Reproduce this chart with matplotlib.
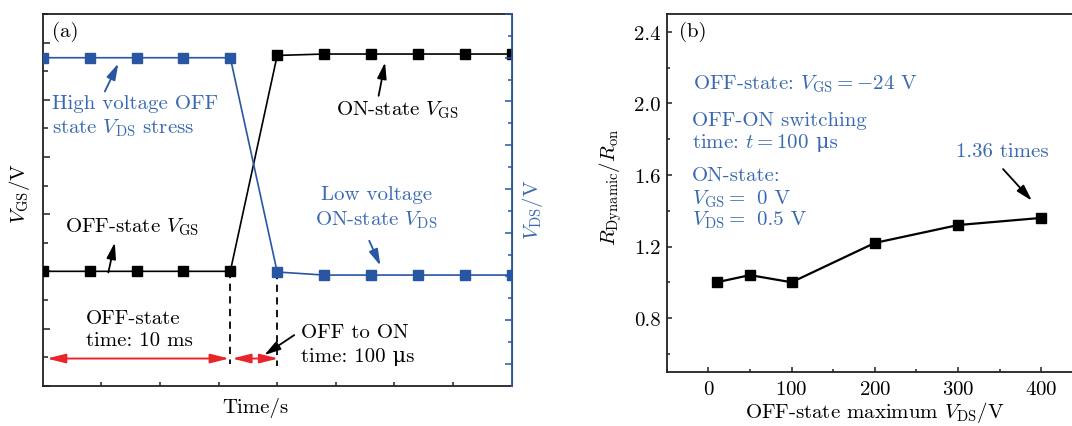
import matplotlib
matplotlib.use("Agg")
import matplotlib.pyplot as plt
from matplotlib.ticker import MultipleLocator, FixedLocator, NullLocator

plt.rcParams['font.family'] = ['cmr10', 'DejaVu Serif']
plt.rcParams['mathtext.fontset'] = 'cm'
plt.rcParams['axes.formatter.use_mathtext'] = True
plt.rcParams['font.size'] = 15

BLUE = '#2856A3'
BLUE_TXT = '#3A69B3'
RED = '#E8262A'
DARK = '#222222'

# ---- panel (a): switching waveform ----
time_pts = [0, 0.8, 1.6, 2.4, 3.2, 4.0, 4.8, 5.6, 6.4, 7.2, 8.0]
vgs_pts = [4.0, 4.0, 4.0, 4.0, 4.0, 11.55, 11.6, 11.6, 11.6, 11.6, 11.6]
vds_pts = [15.0, 15.0, 15.0, 15.0, 15.0, 5.2, 5.06, 5.06, 5.06, 5.06, 5.06]
t_switch_off = 3.2
t_switch_on = 4.0

# ---- panel (b): dynamic on-resistance ratio ----
vds_max = [10, 50, 100, 200, 300, 400]
r_ratio = [1.00, 1.04, 1.00, 1.22, 1.32, 1.36]

fig = plt.figure(figsize=(10.72, 4.27), dpi=100)
W, H = 1072, 427

ax_a = fig.add_axes([42.7 / W, 1 - 386.7 / H, 469 / W, 371.7 / H])
ax_a.set_xlim(0, 8)
ax_a.set_ylim(0, 13)
ax2 = ax_a.twinx()
ax2.set_ylim(0, 17)

ax_a.plot(time_pts, vgs_pts, color='black', lw=1.2, marker='s', ms=7,
          markerfacecolor='black', markeredgecolor='black', zorder=3)
ax2.plot(time_pts, vds_pts, color=BLUE, lw=1.2, marker='s', ms=7,
         markerfacecolor=BLUE, markeredgecolor=BLUE, zorder=3)

for sp in ['left', 'top', 'bottom']:
    ax_a.spines[sp].set_color(DARK)
    ax_a.spines[sp].set_linewidth(1.3)
    ax2.spines[sp].set_visible(False)
ax_a.spines['right'].set_color(BLUE)
ax2.spines['right'].set_color(BLUE)
ax2.spines['right'].set_linewidth(1.3)

ax_a.yaxis.set_major_locator(MultipleLocator(2))
ax_a.yaxis.set_minor_locator(MultipleLocator(1))
ax_a.tick_params(axis='y', which='major', direction='in', length=5, width=1.1,
                 color=DARK, labelleft=False)
ax_a.tick_params(axis='y', which='minor', direction='in', length=3.4, width=1.1,
                 color=DARK)
ax_a.xaxis.set_major_locator(FixedLocator([1, 2, 3, 4, 5, 6, 7]))
ax_a.xaxis.set_minor_locator(NullLocator())
ax_a.tick_params(axis='x', which='major', direction='in', length=3, width=1.1,
                 color=DARK, labelbottom=False)

ax2.yaxis.set_major_locator(FixedLocator([1, 3, 5, 7, 9, 11, 13, 15, 17]))
ax2.yaxis.set_minor_locator(FixedLocator([2, 4, 6, 8, 10, 12, 14, 16]))
ax2.tick_params(axis='y', which='major', direction='in', length=4.8, width=1.1,
                color=BLUE, labelright=False)
ax2.tick_params(axis='y', which='minor', direction='in', length=2.6, width=1.1,
                color=BLUE)

# axis titles
ax_a.text(-0.0505, 0.52, r'$V_{\rm GS}/{\rm V}$', transform=ax_a.transAxes,
          rotation=90, ha='center', va='center')
ax_a.text(1.0445, 0.475, r'$V_{\rm DS}/{\rm V}$', transform=ax_a.transAxes,
          rotation=90, ha='center', va='center', color=BLUE_TXT)
ax_a.text(0.453, -0.058, 'Time/s', transform=ax_a.transAxes,
          ha='center', va='center')

ax_a.text(0.152, 12.41, '(a)', ha='left', va='center')

# dashed markers of the switching instants
ax_a.plot([t_switch_off, t_switch_off], [4.0, 0.75], color='black', lw=1.3,
          ls=(0, (4, 3)), zorder=2)
ax_a.plot([t_switch_on, t_switch_on], [3.97, 0.7], color='black', lw=1.3,
          ls=(0, (4, 3)), zorder=2)

# red duration arrows
red_style = '<|-|>,head_length=0.8,head_width=0.2'
ax_a.annotate('', xy=(t_switch_off - 0.02, 0.95), xytext=(0.07, 0.95),
              arrowprops=dict(arrowstyle=red_style, color=RED, lw=1.4,
                              mutation_scale=14, shrinkA=0, shrinkB=0))
ax_a.annotate('', xy=(t_switch_on + 0.02, 0.95), xytext=(t_switch_off + 0.03, 0.95),
              arrowprops=dict(arrowstyle=red_style, color=RED, lw=1.4,
                              mutation_scale=14, shrinkA=0, shrinkB=0))

ptr = '-|>,head_length=0.7,head_width=0.2'


def pointer(ax, tail, tip, color):
    ax.annotate('', xy=tip, xytext=tail,
                arrowprops=dict(arrowstyle=ptr, color=color, lw=1.3,
                                mutation_scale=14, shrinkA=0, shrinkB=0))


ax_a.text(0.152, 9.88, 'High voltage OFF', color=BLUE_TXT, ha='left', va='center')
ax_a.text(0.152, 9.03, r'state $V_{\rm DS}$ stress', color=BLUE_TXT,
          ha='left', va='center')
pointer(ax_a, (1.06, 10.29), (1.29, 11.27), BLUE)

ax_a.text(5.01, 9.67, r'ON-state $V_{\rm GS}$', ha='left', va='center')
pointer(ax_a, (5.73, 10.14), (5.84, 11.31), 'black')

ax_a.text(0.387, 5.56, r'OFF-state $V_{\rm GS}$', ha='left', va='center')
pointer(ax_a, (1.12, 3.96), (1.23, 5.01), 'black')

ax_a.text(5.69, 6.70, 'Low voltage', color=BLUE_TXT, ha='center', va='center')
ax_a.text(5.69, 5.83, r'ON-state $V_{\rm DS}$', color=BLUE_TXT,
          ha='center', va='center')
pointer(ax_a, (5.57, 5.07), (5.76, 4.20), BLUE)

ax_a.text(0.739, 2.36, 'OFF-state', ha='left', va='center')
ax_a.text(0.739, 1.61, 'time: 10 ms', ha='left', va='center')

ax_a.text(4.40, 1.89, 'OFF to ON', ha='left', va='center')
ax_a.text(4.40, 1.05, 'time: 100 μs', ha='left', va='center')
pointer(ax_a, (4.29, 1.77), (3.78, 1.07), 'black')

# ---- panel (b) ----
ax_b = fig.add_axes([666.7 / W, 1 - 372.7 / H, (1083 - 666.7) / W, 357.7 / H])
ax_b.plot(vds_max, r_ratio, color='black', lw=1.6, marker='s', ms=6.5,
          markerfacecolor='black', markeredgecolor='black')
ax_b.set_xlim(-50, 450)
ax_b.set_ylim(0.5, 2.5)
ax_b.xaxis.set_major_locator(MultipleLocator(100))
ax_b.xaxis.set_minor_locator(MultipleLocator(50))
ax_b.yaxis.set_major_locator(MultipleLocator(0.4))
ax_b.yaxis.set_minor_locator(MultipleLocator(0.2))
ax_b.yaxis.set_major_formatter(plt.FuncFormatter(lambda v, p: f'{v:.1f}'))
for sp in ax_b.spines.values():
    sp.set_color(DARK)
    sp.set_linewidth(1.3)
ax_b.tick_params(which='major', direction='in', length=3.8, width=1.1, color=DARK)
ax_b.tick_params(which='minor', direction='in', length=2.2, width=1.1, color=DARK)
ax_b.tick_params(axis='x', which='major', pad=6)
ax_b.tick_params(axis='y', which='major', pad=4.5)

ax_b.set_xlabel(r'OFF-state maximum $V_{\rm DS}/{\rm V}$', labelpad=1)
ax_b.text(-0.134, 0.519, r'$R_{\rm Dynamic}/R_{\rm on}$', transform=ax_b.transAxes,
          rotation=90, ha='center', va='center')

ax_b.text(-35.2, 2.403, '(b)', ha='left', va='center')
ax_b.text(-18.7, 2.114, r'OFF-state: $V_{\rm GS} = -24$ V', color=BLUE_TXT,
          ha='left', va='center')
ax_b.text(-19.5, 1.909, 'OFF-ON switching', color=BLUE_TXT, ha='left', va='center')
t_line = ax_b.text(-19.5, 1.783, r'time: $t = 100$', color=BLUE_TXT,
                   ha='left', va='center')
# unit appended after the math run so the micro sign comes from the text fonts
ax_b.annotate(' μs', xy=(1, 0), xycoords=t_line, color=BLUE_TXT,
              ha='left', va='bottom')
ax_b.text(-19.5, 1.60, 'ON-state:', color=BLUE_TXT, ha='left', va='center')
ax_b.text(-19.5, 1.47, r'$V_{\rm GS} =$', color=BLUE_TXT, ha='left', va='center')
ax_b.text(58.5, 1.47, '0 V', color=BLUE_TXT, ha='left', va='center')
ax_b.text(-19.5, 1.354, r'$V_{\rm DS} =$', color=BLUE_TXT, ha='left', va='center')
ax_b.text(58.5, 1.354, '0.5 V', color=BLUE_TXT, ha='left', va='center')

ax_b.text(297, 1.732, f'{r_ratio[-1]:.2f} times', color=BLUE_TXT, ha='left', va='center')
pointer(ax_b, (354, 1.633), (388.6, 1.456), 'black')

fig.savefig('out.png', dpi=100)
